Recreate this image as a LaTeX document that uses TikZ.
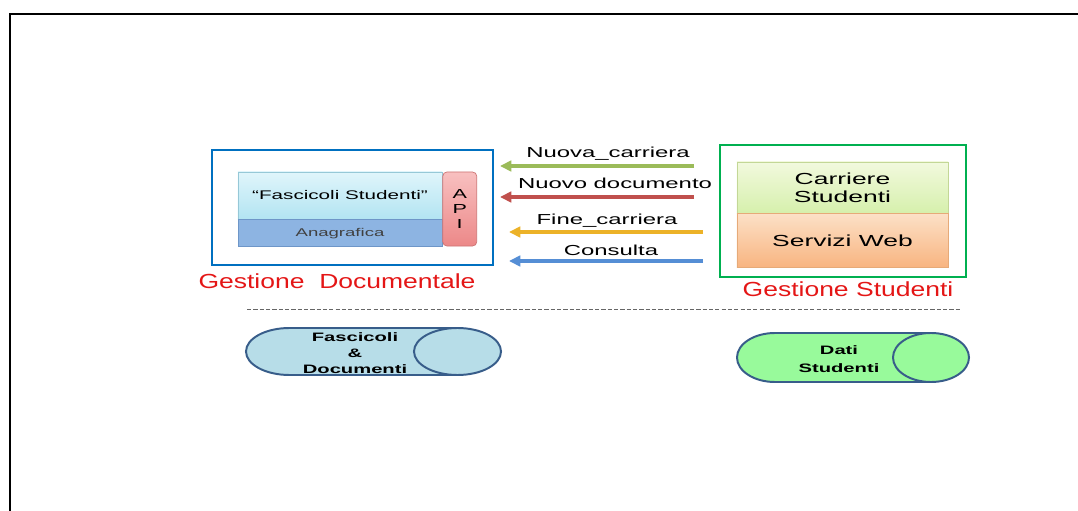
\documentclass[tikz,border=0pt]{standalone}
\usepackage{fontspec}
\setmainfont{Liberation Sans}
\newfontfamily\largo[FakeStretch=1.65]{Liberation Sans}
\newfontfamily\largor[FakeStretch=1.3]{Liberation Sans}
\usetikzlibrary{arrows.meta,positioning,shapes.geometric}
\definecolor{bordoblu}{RGB}{0,112,192}
\definecolor{bordoverde}{RGB}{0,176,80}
\definecolor{rosso}{RGB}{228,22,22}
\definecolor{fascsu}{RGB}{224,245,251}
\definecolor{fascgiu}{RGB}{178,228,242}
\definecolor{fascbordo}{RGB}{150,200,215}
\definecolor{anag}{RGB}{141,180,226}
\definecolor{anagbordo}{RGB}{110,150,200}
\definecolor{apisu}{RGB}{248,192,192}
\definecolor{apigiu}{RGB}{236,136,136}
\definecolor{apibordo}{RGB}{205,115,115}
\definecolor{carrsu}{RGB}{242,249,222}
\definecolor{carrgiu}{RGB}{214,240,172}
\definecolor{carrbordo}{RGB}{195,215,150}
\definecolor{servsu}{RGB}{252,224,198}
\definecolor{servgiu}{RGB}{248,180,128}
\definecolor{servbordo}{RGB}{230,170,120}
\definecolor{cilblu}{RGB}{183,221,232}
\definecolor{cilverde}{RGB}{152,250,155}
\definecolor{cilbordo}{RGB}{56,93,138}
\definecolor{frverde}{RGB}{155,187,89}
\definecolor{frrosso}{RGB}{192,80,77}
\definecolor{frgiallo}{RGB}{236,178,40}
\definecolor{frblu}{RGB}{85,142,213}
\tikzset{
  contenitore/.style={draw, line width=1.5pt, inner sep=0pt},
  modulo/.style={draw, line width=0.5pt, inner sep=0pt, align=center},
  freccia/.style={line width=2.2pt, -{Triangle[length=8pt,width=7.5pt]}},
  etichetta/.style={font=\largo\fontsize{10.3}{12}\selectfont, anchor=base, inner sep=0pt},
  titolo/.style={text=rosso, font=\largor\fontsize{14.5}{17}\selectfont, anchor=base, inner sep=0pt},
  estremo/.style={ellipse, draw=cilbordo, line width=1.4pt, inner sep=0pt, outer sep=0pt},
  testoarch/.style={font=\largo\bfseries\fontsize{8.7}{11.4}\selectfont, align=center, inner sep=0pt}
}

\begin{document}
\begin{tikzpicture}[x=0.025cm, y=-0.025cm]
  \useasboundingbox (0,0) rectangle (1078,511);
  %cornice
  \draw[line width=2.1pt] (10,511) -- (10,14) -- (1078,14);

  %gestione documentale
  \node[contenitore, draw=bordoblu, minimum width=7.025cm, minimum height=2.875cm] (gd) at (352.5,207.5) {};
  \node[modulo, draw=fascbordo, top color=fascsu, bottom color=fascgiu,
        minimum width=5.1cm, minimum height=1.175cm,
        font=\largo\fontsize{8.9}{10}\selectfont] (fasc) at (340,195.5) {“Fascicoli Studenti”};
  \node[modulo, draw=anagbordo, fill=anag, text=black!75, below=0pt of fasc,
        minimum width=5.1cm, minimum height=0.675cm,
        font=\largo\fontsize{8}{10}\selectfont] (anag) {Anagrafica};
  \node[modulo, draw=apibordo, top color=apisu, bottom color=apigiu, rounded corners=3pt,
        minimum width=0.85cm, minimum height=1.85cm, anchor=north west,
        font=\largo\fontsize{9.3}{10.7}\selectfont] (api) at (fasc.north east) {A\\P\\I};
  \node[titolo] (lgd) at (337,288) {Gestione\ \ Documentale};

  %gestione studenti
  \node[contenitore, draw=bordoverde, minimum width=6.15cm, minimum height=3.3cm] (gs) at (843,211) {};
  \node[modulo, draw=carrbordo, top color=carrsu, bottom color=carrgiu,
        minimum width=5.275cm, minimum height=1.275cm,
        font=\largo\fontsize{11.4}{12.8}\selectfont] (carr) at (842.5,187.5) {Carriere\\Studenti};
  \node[modulo, draw=servbordo, top color=servsu, bottom color=servgiu, below=0pt of carr,
        minimum width=5.275cm, minimum height=1.35cm,
        font=\largo\fontsize{11.4}{12.8}\selectfont] (serv) {Servizi Web};
  \node[titolo] (lgs) at (848,297) {Gestione Studenti};

  %messaggi
  \foreach \i/\ya/\xa/\xb/\xl/\yl/\col/\testo in {
      1/166/500/694/608/158/frverde/Nuova\_carriera,
      2/197/500/694/615/189/frrosso/Nuovo documento,
      3/232/509/703/607/225/frgiallo/Fine\_carriera,
      4/261/509/703/611/256/frblu/Consulta}{
    \coordinate (p\i) at (\xb,\ya);
    \coordinate (q\i) at (\xa,\ya);
    \draw[freccia, \col] (p\i) -- (q\i);
    \node[etichetta] (e\i) at (\xl,\yl) {\testo};
  }

  %separatore
  \draw[black!60, line width=0.6pt, dash pattern=on 3pt off 1.5pt] (247,309) -- (962,309);

  %archivio fascicoli
  \node[estremo, fill=cilblu, minimum width=2.175cm, minimum height=1.175cm] (a1s) at (289.5,351.5) {};
  \coordinate (a1c) at (457.5,351.5);
  \fill[cilblu] (a1s.north) rectangle (a1s.south -| a1c);
  \node[estremo, fill=cilblu, minimum width=2.175cm, minimum height=1.175cm] (a1d) at (a1c) {};
  \draw[cilbordo, line width=1.4pt] (a1s.north) -- (a1d.north);
  \draw[cilbordo, line width=1.4pt] (a1s.south) -- (a1d.south);
  \node[testoarch] (t1) at (355,353) {Fascicoli\\\&\\Documenti};

  %archivio studenti
  \node[estremo, fill=cilverde, minimum width=1.9cm, minimum height=1.225cm] (a2s) at (775,357.5) {};
  \coordinate (a2c) at (931,357.5);
  \fill[cilverde] (a2s.north) rectangle (a2s.south -| a2c);
  \node[estremo, fill=cilverde, minimum width=1.9cm, minimum height=1.225cm] (a2d) at (a2c) {};
  \draw[cilbordo, line width=1.4pt] (a2s.north) -- (a2d.north);
  \draw[cilbordo, line width=1.4pt] (a2s.south) -- (a2d.south);
  \node[testoarch, font=\largo\bfseries\fontsize{8.7}{12.5}\selectfont] (t2) at (839,359) {Dati\\Studenti};
\end{tikzpicture}
\end{document}
